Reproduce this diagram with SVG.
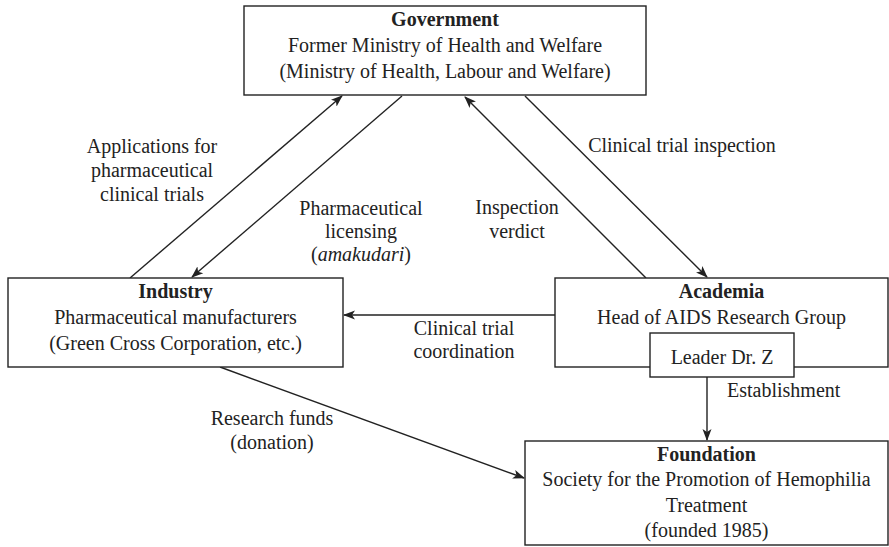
<svg xmlns="http://www.w3.org/2000/svg" width="889" height="547" viewBox="0 0 889 547">
<style>
.box{fill:#fff;stroke:#222;stroke-width:1.4}
text{font-family:'Liberation Serif','Times New Roman',Times,'DejaVu Serif',serif;font-size:20px;fill:#222;text-anchor:middle}
.b{font-weight:bold}
.l{fill:none;stroke:#222;stroke-width:1.4}
</style>
<defs>
<marker id="ah" viewBox="0 0 12 10" refX="11" refY="5" markerWidth="12" markerHeight="10" markerUnits="userSpaceOnUse" orient="auto">
<path d="M0,0.5 L12,5 L0,9.5 L3,5 z" fill="#222"/>
</marker>
</defs>
<rect width="889" height="547" fill="#fff"/>
<g id="connectors">
<line class="l" x1="130" y1="278" x2="342" y2="96" marker-end="url(#ah)"/>
<line class="l" x1="402" y1="96" x2="192" y2="277" marker-end="url(#ah)"/>
<line class="l" x1="646" y1="278" x2="465" y2="97" marker-end="url(#ah)"/>
<line class="l" x1="525" y1="96" x2="707" y2="277" marker-end="url(#ah)"/>
<line class="l" x1="555" y1="315" x2="344" y2="315" marker-end="url(#ah)"/>
<line class="l" x1="707" y1="377" x2="707" y2="440" marker-end="url(#ah)"/>
<line class="l" x1="220" y1="367" x2="524" y2="478" marker-end="url(#ah)"/>
<text x="152" y="153">Applications for</text>
<text x="152" y="177">pharmaceutical</text>
<text x="152" y="201">clinical trials</text>
<text x="361" y="215">Pharmaceutical</text>
<text x="361" y="238">licensing</text>
<text x="361" y="261">(<tspan font-style="italic">amakudari</tspan>)</text>
<text x="682" y="152">Clinical trial inspection</text>
<text x="517" y="214">Inspection</text>
<text x="517" y="238">verdict</text>
<text x="464" y="335">Clinical trial</text>
<text x="464" y="358">coordination</text>
<text x="727" y="397" style="text-anchor:start">Establishment</text>
<text x="272" y="425">Research funds</text>
<text x="272" y="449">(donation)</text>
</g>
<g id="government">
<rect class="box" x="244" y="6" width="402" height="89"/>
<text class="b" x="445" y="26">Government</text>
<text x="445" y="52">Former Ministry of Health and Welfare</text>
<text x="445" y="78">(Ministry of Health, Labour and Welfare)</text>
</g>
<g id="industry">
<rect class="box" x="8" y="278" width="335" height="89"/>
<text class="b" x="175.5" y="298">Industry</text>
<text x="175.5" y="324">Pharmaceutical manufacturers</text>
<text x="175.5" y="350">(Green Cross Corporation, etc.)</text>
</g>
<g id="academia">
<rect class="box" x="555" y="278" width="333" height="89"/>
<text class="b" x="721.5" y="298">Academia</text>
<text x="721.5" y="324">Head of AIDS Research Group</text>
</g>
<g id="leader">
<rect class="box" x="650" y="333" width="144" height="44"/>
<text x="722" y="364">Leader Dr. Z</text>
</g>
<g id="foundation">
<rect class="box" x="525" y="441" width="363" height="104"/>
<text class="b" x="706.5" y="461">Foundation</text>
<text x="706.5" y="486">Society for the Promotion of Hemophilia</text>
<text x="706.5" y="512">Treatment</text>
<text x="706.5" y="537">(founded 1985)</text>
</g>
</svg>
